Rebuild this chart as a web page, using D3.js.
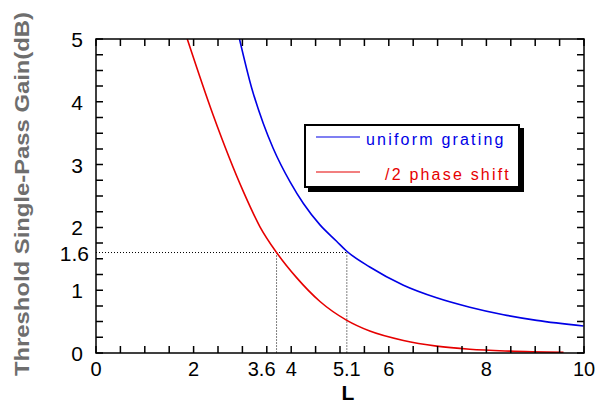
<!DOCTYPE html>
<html>
<head>
<meta charset="utf-8">
<script src="https://cdn.jsdelivr.net/npm/d3@7"></script>
<style>
  body { margin: 0; background: #fff; }
  text { font-family: "Liberation Sans", Arial, sans-serif; }
</style>
</head>
<body>
<div id="chart"></div>
<script>
// datos
const uniformL = [2.94, 3.19, 3.43, 3.63, 3.98, 4.25, 4.59, 4.93, 5.14, 5.61, 6.30, 6.98, 7.66, 8.35, 9.03, 9.99];
const uniformG = [5.0, 4.22, 3.65, 3.26, 2.72, 2.38, 2.04, 1.78, 1.62, 1.37, 1.08, 0.88, 0.73, 0.61, 0.52, 0.43];
const shiftL = [1.87, 2.40, 3.02, 3.36, 3.70, 4.11, 4.59, 5.14, 5.61, 6.30, 6.98, 7.66, 8.48, 9.58];
const shiftG = [5.0, 3.79, 2.57, 2.01, 1.60, 1.20, 0.82, 0.52, 0.35, 0.20, 0.11, 0.06, 0.03, 0.01];
const xTicks = [0, 2, 4, 6, 8, 10];
const yTicks = [0, 1, 2, 3, 4, 5];
const markG = 1.6;
const markL = [3.7, 5.14];
const markLabels = ["3.6", "5.1"];

const width = 597, height = 405;
const margin = {top: 39, right: 13, bottom: 52, left: 96};

const svg = d3.select("#chart").append("svg")
    .attr("width", width)
    .attr("height", height);

const x = d3.scaleLinear().domain([0, 10]).range([margin.left, width - margin.right]);
const y = d3.scaleLinear().domain([0, 5]).range([height - margin.bottom, margin.top]);

svg.append("clipPath").attr("id", "clip")
  .append("rect")
    .attr("x", x(0)).attr("y", y(5))
    .attr("width", x(10) - x(0)).attr("height", y(0) - y(5));

// lineas punteadas
const dots = svg.append("g")
    .attr("stroke", "#000")
    .attr("stroke-width", 1)
    .attr("stroke-dasharray", "1,2")
    .attr("fill", "none");
dots.append("line")
    .attr("x1", x(0)).attr("x2", x(markL[1]))
    .attr("y1", y(markG)).attr("y2", y(markG));
markL.forEach(function (v) {
  dots.append("line")
      .attr("x1", x(v)).attr("x2", x(v))
      .attr("y1", y(markG)).attr("y2", y(0));
});

// curvas
const line = d3.line()
    .x(d => x(d[0]))
    .y(d => y(d[1]))
    .curve(d3.curveMonotoneX);

const series = [
  {L: uniformL, G: uniformG, color: "#0000e6"},
  {L: shiftL, G: shiftG, color: "#e60000"}
];
series.forEach(function (s) {
  svg.append("path")
      .datum(s.L.map((v, i) => [v, s.G[i]]))
      .attr("clip-path", "url(#clip)")
      .attr("fill", "none")
      .attr("stroke", s.color)
      .attr("stroke-width", 1.6)
      .attr("d", line);
});

// ticks hacia dentro en los cuatro lados (un solo path)
const xMinor = d3.range(0, 10.01, 0.5);
const yMinor = d3.range(0, 5.01, 0.25);
const tk = 7;
let tickPath = "";
xMinor.forEach(function (v) {
  const px = x(v);
  tickPath += `M${px},${y(0)}V${y(0) - tk}M${px},${y(5)}V${y(5) + tk}`;
});
yMinor.forEach(function (v) {
  const py = y(v);
  tickPath += `M${x(0)},${py}H${x(0) + tk}M${x(10)},${py}H${x(10) - tk}`;
});
svg.append("path")
    .attr("d", tickPath)
    .attr("fill", "none")
    .attr("stroke", "#000")
    .attr("stroke-width", 1.5);

svg.append("rect")
    .attr("x", x(0)).attr("y", y(5))
    .attr("width", x(10) - x(0)).attr("height", y(0) - y(5))
    .attr("fill", "none")
    .attr("stroke", "#000")
    .attr("stroke-width", 1.5);

// etiquetas de ticks
svg.append("g").selectAll("text")
  .data(xTicks)
  .join("text")
    .attr("x", d => x(d))
    .attr("y", y(0) + 23)
    .attr("text-anchor", "middle")
    .attr("font-size", 20)
    .text(d => d);
svg.append("g").selectAll("text")
  .data(yTicks)
  .join("text")
    .attr("x", x(0) - 13)
    .attr("y", d => y(d) + 8)
    .attr("text-anchor", "end")
    .attr("font-size", 21)
    .text(d => d);

svg.append("text")
    .attr("x", x(markL[0]) - 1)
    .attr("y", y(0) + 23)
    .attr("text-anchor", "end")
    .attr("font-size", 20)
    .text(markLabels[0]);
svg.append("text")
    .attr("x", x(markL[1]))
    .attr("y", y(0) + 23)
    .attr("text-anchor", "middle")
    .attr("font-size", 20)
    .text(markLabels[1]);
svg.append("text")
    .attr("x", x(0) - 7)
    .attr("y", y(markG) + 8)
    .attr("text-anchor", "end")
    .attr("font-size", 21)
    .text(markG);

// titulos
svg.append("text")
    .attr("x", x(5.14) + 1)
    .attr("y", 400)
    .attr("text-anchor", "middle")
    .attr("font-size", 21)
    .attr("font-weight", "bold")
    .text("L");

svg.append("text")
    .attr("transform", "translate(29,194) rotate(-90)")
    .attr("text-anchor", "middle")
    .attr("font-size", 21)
    .attr("font-weight", "bold")
    .attr("fill", "#6e6e6e")
    .attr("textLength", 364)
    .attr("lengthAdjust", "spacingAndGlyphs")
    .text("Threshold Single-Pass Gain(dB)");

// leyenda
const leg = svg.append("g");
leg.append("rect")
    .attr("x", 308).attr("y", 128).attr("width", 216).attr("height", 64)
    .attr("fill", "#000");
leg.append("rect")
    .attr("x", 305).attr("y", 125).attr("width", 214).attr("height", 62)
    .attr("fill", "#fff")
    .attr("stroke", "#000")
    .attr("stroke-width", 2);
const legItems = [
  {label: "uniform grating", color: "#0000e6", tx: 366},
  {label: "/2 phase shift", color: "#e60000", tx: 385}
];
legItems.forEach(function (d, i) {
  const yy = 137 + i * 35;
  leg.append("line")
      .attr("x1", 316).attr("x2", 360)
      .attr("y1", yy).attr("y2", yy)
      .attr("stroke", d.color)
      .attr("stroke-width", 1.2);
  leg.append("text")
      .attr("x", d.tx).attr("y", yy + 8)
      .attr("font-size", 16)
      .attr("letter-spacing", 2.2)
      .attr("fill", d.color)
      .text(d.label);
});
</script>
</body>
</html>
